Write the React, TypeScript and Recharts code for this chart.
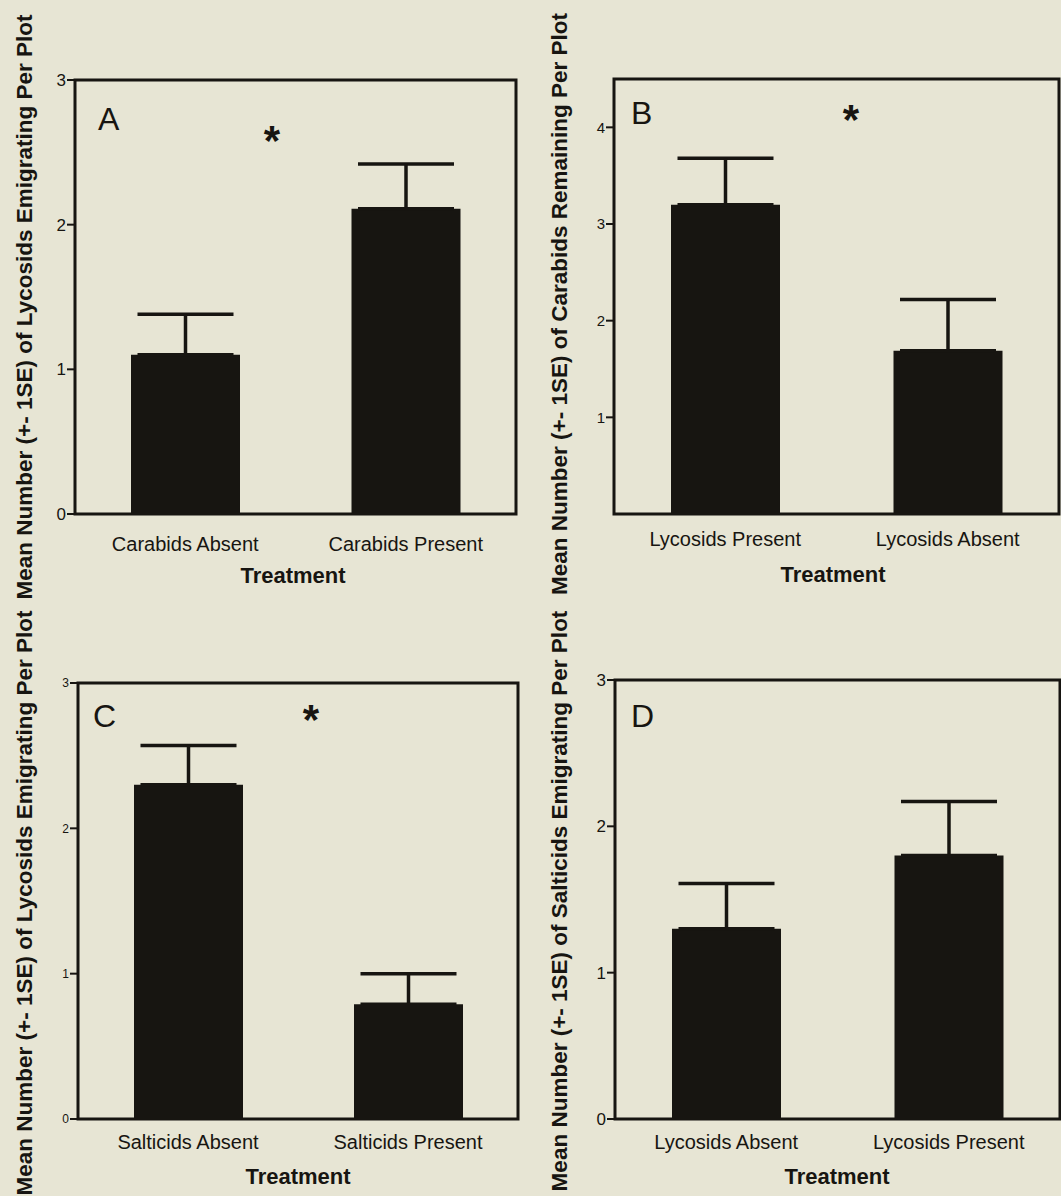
import React from 'react';
import { BarChart, Bar, XAxis, YAxis, ErrorBar, ReferenceArea, Label } from 'recharts';

// Panel A
const categoriesA = ['Carabids Absent', 'Carabids Present'];
const meansA = [1.1, 2.11];
const seA = [0.28, 0.31];

// Panel B
const categoriesB = ['Lycosids Present', 'Lycosids Absent'];
const meansB = [3.2, 1.69];
const seB = [0.48, 0.53];

// Panel C
const categoriesC = ['Salticids Absent', 'Salticids Present'];
const meansC = [2.3, 0.79];
const seC = [0.27, 0.21];

// Panel D
const categoriesD = ['Lycosids Absent', 'Lycosids Present'];
const meansD = [1.3, 1.8];
const seD = [0.31, 0.37];

const ticks0to3 = [0, 1, 2, 3];
const ticks1to4 = [1, 2, 3, 4];

const INK = '#171511';
const PAPER = '#e7e5d4';
const FONT = '"Liberation Sans", Arial, Helvetica, sans-serif';

const buildRows = (cats: string[], means: number[], se: number[]) =>
  cats.map((name, i) => ({ name, mean: means[i], err: [0, se[i]] }));

type PanelProps = {
  left: number;
  top: number;
  width: number;
  height: number;
  plotTop: number;
  plotRight: number;
  yAxisWidth: number;
  xAxisHeight: number;
  xTickMargin: number;
  yTickFont: number;
  domain: [number, number];
  ticks: number[];
  rows: { name: string; mean: number; err: number[] }[];
  yLabel: string;
  yLabelPos: [number, number];
  xLabelPos: [number, number];
  letter: string;
  letterPos: [number, number];
  star?: [number, number];
};

function Panel(p: PanelProps) {
  const yTick = (t: any) => (
    <text
      x={t.x}
      y={t.y}
      dy="0.36em"
      textAnchor="end"
      fontSize={p.yTickFont}
      fill={INK}
      fontFamily={FONT}
    >
      {t.payload.value}
    </text>
  );
  const xTick = (t: any) => (
    <text x={t.x} y={t.y} dy="0.71em" textAnchor="middle" fontSize={20} fill={INK} fontFamily={FONT}>
      {t.payload.value}
    </text>
  );

  return (
    <div style={{ position: 'absolute', left: p.left, top: p.top }}>
      <BarChart
        width={p.width}
        height={p.height}
        data={p.rows}
        margin={{ top: p.plotTop, right: p.plotRight, bottom: 0, left: 0 }}
        style={{ fontFamily: FONT }}
      >
        <XAxis
          dataKey="name"
          height={p.xAxisHeight}
          axisLine={false}
          tickLine={false}
          tickSize={0}
          tickMargin={p.xTickMargin}
          interval={0}
          tick={xTick}
        >
          <Label
            content={() => (
              <text
                x={p.xLabelPos[0]}
                y={p.xLabelPos[1]}
                textAnchor="middle"
                fontSize={22}
                fontWeight="bold"
                fill={INK}
                fontFamily={FONT}
              >
                Treatment
              </text>
            )}
          />
        </XAxis>
        <YAxis
          type="number"
          width={p.yAxisWidth}
          domain={p.domain}
          ticks={p.ticks}
          allowDataOverflow
          axisLine={false}
          tickLine={{ stroke: INK, strokeWidth: 2 }}
          tickSize={8}
          tickMargin={1}
          tick={yTick}
        >
          <Label
            content={() => (
              <text
                x={p.yLabelPos[0]}
                y={p.yLabelPos[1]}
                transform={`rotate(-90, ${p.yLabelPos[0]}, ${p.yLabelPos[1]})`}
                textAnchor="middle"
                fontSize={22.5}
                fontWeight="bold"
                fill={INK}
                fontFamily={FONT}
              >
                {p.yLabel}
              </text>
            )}
          />
        </YAxis>
        <Bar dataKey="mean" fill={INK} barSize={109} isAnimationActive={false}>
          <ErrorBar dataKey="err" width={48} strokeWidth={3.5} stroke={INK} />
        </Bar>
        <ReferenceArea
          y1={p.domain[0]}
          y2={p.domain[1]}
          fill="none"
          fillOpacity={0}
          stroke={INK}
          strokeWidth={3}
          ifOverflow="visible"
        >
          <Label
            content={() => (
              <g fontFamily={FONT} fill={INK}>
                <text x={p.letterPos[0]} y={p.letterPos[1]} fontSize={32}>
                  {p.letter}
                </text>
                {p.star && (
                  <text x={p.star[0]} y={p.star[1]} fontSize={42} fontWeight="bold" textAnchor="middle">
                    *
                  </text>
                )}
              </g>
            )}
          />
        </ReferenceArea>
      </BarChart>
    </div>
  );
}

export default function App() {
  return (
    <div
      style={{
        position: 'absolute',
        left: 0,
        top: 0,
        width: 1061,
        height: 1196,
        background: PAPER,
        overflow: 'hidden',
      }}
    >
      <Panel
        left={0}
        top={0}
        width={530}
        height={600}
        plotTop={80}
        plotRight={14}
        yAxisWidth={75}
        xAxisHeight={86}
        xTickMargin={23}
        yTickFont={17}
        domain={[0, 3]}
        ticks={ticks0to3}
        rows={buildRows(categoriesA, meansA, seA)}
        yLabel="Mean Number (+- 1SE) of Lycosids Emigrating Per Plot"
        yLabelPos={[32, 307]}
        xLabelPos={[293, 583]}
        letter="A"
        letterPos={[98, 130]}
        star={[272, 155]}
      />
      <Panel
        left={530}
        top={0}
        width={531}
        height={600}
        plotTop={79}
        plotRight={2}
        yAxisWidth={84}
        xAxisHeight={86}
        xTickMargin={18}
        yTickFont={15}
        domain={[0, 4.5]}
        ticks={ticks1to4}
        rows={buildRows(categoriesB, meansB, seB)}
        yLabel="Mean Number (+- 1SE) of Carabids Remaining Per Plot"
        yLabelPos={[37, 304]}
        xLabelPos={[303, 582]}
        letter="B"
        letterPos={[101, 124]}
        star={[321, 134]}
      />
      <Panel
        left={0}
        top={600}
        width={530}
        height={596}
        plotTop={83}
        plotRight={12}
        yAxisWidth={78}
        xAxisHeight={77}
        xTickMargin={16}
        yTickFont={12}
        domain={[0, 3]}
        ticks={ticks0to3}
        rows={buildRows(categoriesC, meansC, seC)}
        yLabel="Mean Number (+- 1SE) of Lycosids Emigrating Per Plot"
        yLabelPos={[32, 303]}
        xLabelPos={[298, 584]}
        letter="C"
        letterPos={[93, 127]}
        star={[311, 134]}
      />
      <Panel
        left={530}
        top={600}
        width={531}
        height={596}
        plotTop={80}
        plotRight={1}
        yAxisWidth={85}
        xAxisHeight={77}
        xTickMargin={16}
        yTickFont={17}
        domain={[0, 3]}
        ticks={ticks0to3}
        rows={buildRows(categoriesD, meansD, seD)}
        yLabel="Mean Number (+- 1SE) of Salticids Emigrating Per Plot"
        yLabelPos={[37, 301]}
        xLabelPos={[307, 584]}
        letter="D"
        letterPos={[101, 127]}
      />
    </div>
  );
}
